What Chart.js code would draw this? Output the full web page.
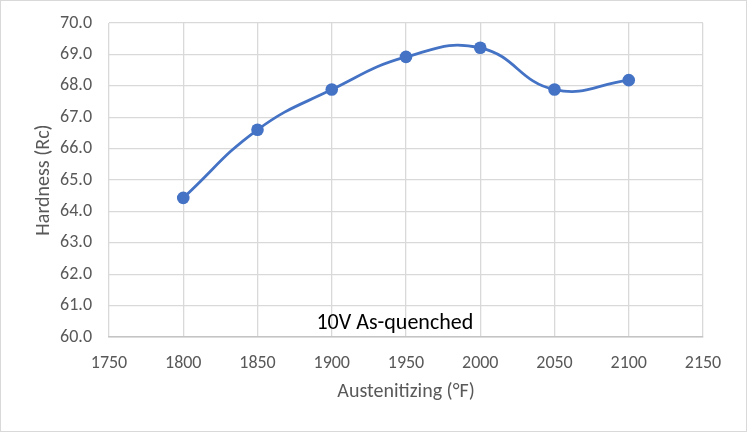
<!DOCTYPE html>
<html>
<head>
<meta charset="utf-8">
<script src="https://cdn.jsdelivr.net/npm/chart.js@4"></script>
<style>
  html,body{margin:0;padding:0;background:#fff;}
  #wrap{position:relative;width:747px;height:432px;}
  #frame{position:absolute;left:0;top:0;width:745px;height:430px;border:1px solid #d9d9d9;pointer-events:none;}
</style>
</head>
<body>
<div id="wrap">
  <canvas id="c" width="747" height="432"></canvas>
  <div id="frame"></div>
</div>
<script>
// data
const temps=[1800,1850,1900,1950,2000,2050,2100];
const hardness=[64.43,66.6,67.88,68.92,69.21,67.88,68.18];
const xTicks=[1750,1800,1850,1900,1950,2000,2050,2100,2150];
const yTicks=[60,61,62,63,64,65,66,67,68,69,70];
const chartTitle='10V As-quenched';
const xTitle='Austenitizing (°F)';
const yTitle='Hardness (Rc)';

const FONT="'Carlito','Liberation Sans Narrow','Liberation Sans',Arial,sans-serif";
const GREY='#595959',GRID='#d9d9d9',BLUE='#4472C4';

// title sits inside the plot, near the bottom
const inPlotTitle={
  id:'inPlotTitle',
  afterDraw(chart){
    const {ctx,scales:{x,y}}=chart;
    ctx.save();
    ctx.font='22px '+FONT;
    ctx.fillStyle='#000';
    ctx.textAlign='center';
    ctx.textBaseline='middle';
    ctx.fillText(chartTitle,x.getPixelForValue(1942.5),y.getPixelForValue(60.42));
    ctx.restore();
  }
};

new Chart(document.getElementById('c'),{
  type:'line',
  data:{datasets:[{
    data:temps.map((t,i)=>({x:t,y:hardness[i]})),
    borderColor:BLUE,backgroundColor:BLUE,borderWidth:2.8,
    pointRadius:6.3,pointHoverRadius:6.3,pointBorderWidth:0,
    tension:0.45,fill:false
  }]},
  options:{
    responsive:false,animation:false,
    layout:{padding:{top:23,right:44,left:0,bottom:0}},
    plugins:{legend:{display:false},tooltip:{enabled:false}},
    scales:{
      x:{type:'linear',min:1750,max:2150,
        afterBuildTicks:s=>{s.ticks=xTicks.map(v=>({value:v}));},
        afterFit:s=>{s.height=95;s.paddingLeft=0;s.paddingRight=0;},
        grid:{color:GRID,lineWidth:1.3,drawTicks:false},
        border:{color:'#c4c4c4',width:1.5},
        ticks:{color:GREY,font:{family:FONT,size:18},padding:16,maxRotation:0,callback:v=>String(v)},
        title:{display:true,text:xTitle,color:GREY,font:{family:FONT,size:20},padding:{top:0,bottom:28}}
      },
      y:{min:60,max:70,
        afterBuildTicks:s=>{s.ticks=yTicks.map(v=>({value:v}));},
        afterFit:s=>{s.width=109;s.paddingTop=0;s.paddingBottom=0;},
        grid:{color:GRID,lineWidth:1.3,drawTicks:false},
        border:{display:false},
        ticks:{color:GREY,font:{family:FONT,size:18},padding:17,callback:v=>v.toFixed(1)},
        title:{display:true,text:yTitle,color:GREY,font:{family:FONT,size:20},padding:{top:32,bottom:0}}
      }
    }
  },
  plugins:[inPlotTitle]
});
</script>
</body>
</html>
